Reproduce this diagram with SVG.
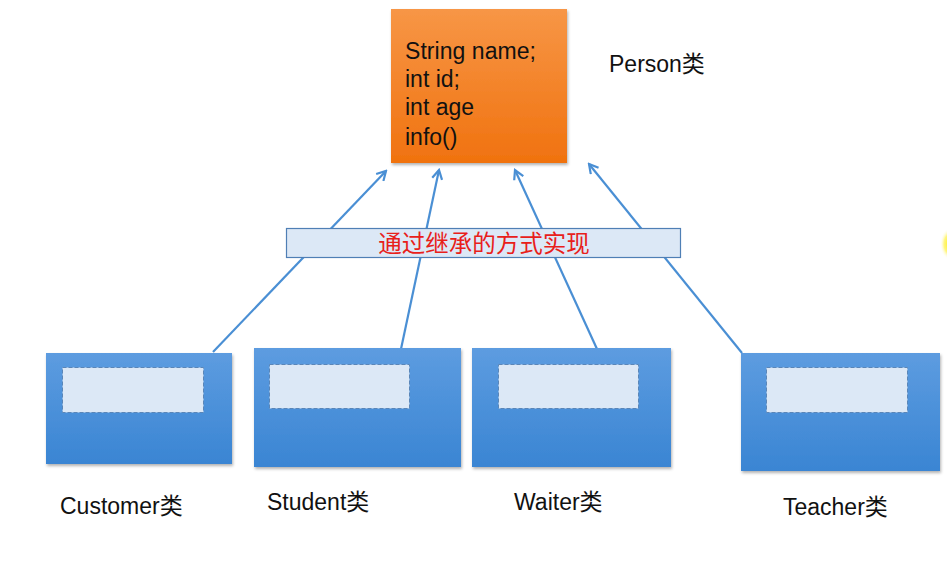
<svg xmlns="http://www.w3.org/2000/svg" width="947" height="561" viewBox="0 0 947 561">
  <defs>
    <linearGradient id="orange" x1="0" y1="0" x2="0" y2="1">
      <stop offset="0" stop-color="#f79646"/>
      <stop offset="1" stop-color="#f0720f"/>
    </linearGradient>
    <linearGradient id="blue" x1="0" y1="0" x2="0" y2="1">
      <stop offset="0" stop-color="#5d9ce0"/>
      <stop offset="1" stop-color="#3a85d3"/>
    </linearGradient>
    <radialGradient id="yel">
      <stop offset="0" stop-color="#ffee00"/>
      <stop offset="0.6" stop-color="#fff24d" stop-opacity="0.7"/>
      <stop offset="1" stop-color="#ffffff" stop-opacity="0"/>
    </radialGradient>
    <filter id="shadow" x="-10%" y="-10%" width="125%" height="125%">
      <feDropShadow dx="1" dy="2" stdDeviation="1.5" flood-color="#000" flood-opacity="0.3"/>
    </filter>
    <marker id="arrow" viewBox="0 0 12 12" refX="10" refY="6" markerWidth="12" markerHeight="12" markerUnits="userSpaceOnUse" orient="auto">
      <path d="M1,1 L10,6 L1,11" fill="none" stroke="#4a8fd4" stroke-width="2.2"/>
    </marker>
  </defs>
  <style>
    .lbl { font-family: "Liberation Sans", "Noto Sans CJK SC", sans-serif; font-size: 23px; fill: #111; }
    .cls { fill: url(#blue); filter: url(#shadow); }
    .inner { fill: #dce8f6; stroke: #5a86b8; stroke-width: 1; stroke-dasharray: 4 2; }
    .conn { stroke: #4a8fd4; stroke-width: 2.2; fill: none; marker-end: url(#arrow); }
  </style>
  <rect width="947" height="561" fill="#ffffff"/>
  <ellipse cx="950" cy="244" rx="10" ry="16" fill="url(#yel)"/>

  <g id="connectors">
    <line class="conn" x1="213" y1="352" x2="386" y2="171"/>
    <line class="conn" x1="401" y1="349" x2="439" y2="170"/>
    <line class="conn" x1="597" y1="349" x2="515" y2="170"/>
    <line class="conn" x1="742" y1="353" x2="589" y2="164"/>
  </g>

  <g id="person">
    <rect x="391" y="9" width="176" height="154" fill="url(#orange)" filter="url(#shadow)"/>
    <text class="lbl" x="405" y="59" textLength="131">String name;</text>
    <text class="lbl" x="405" y="87">int id;</text>
    <text class="lbl" x="405" y="115">int age</text>
    <text class="lbl" x="405" y="145">info()</text>
    <text class="lbl" x="609" y="72">Person类</text>
  </g>

  <g id="banner">
    <rect x="286.5" y="228.5" width="394" height="29" fill="#dce8f6" stroke="#4f7fb5" stroke-width="1.2"/>
    <text x="484" y="252" text-anchor="middle" font-family="'Noto Sans CJK SC', sans-serif" font-size="23.5" fill="#e8201a">通过继承的方式实现</text>
  </g>

  <g id="customer">
    <rect class="cls" x="46" y="353" width="186" height="111"/>
    <rect class="inner" x="62.5" y="367.5" width="141" height="45"/>
    <text class="lbl" x="60" y="514">Customer类</text>
  </g>

  <g id="student">
    <rect class="cls" x="254" y="348" width="207" height="119"/>
    <rect class="inner" x="269.5" y="364.5" width="140" height="44"/>
    <text class="lbl" x="267" y="510">Student类</text>
  </g>

  <g id="waiter">
    <rect class="cls" x="472" y="348" width="199" height="119"/>
    <rect class="inner" x="498.5" y="364.5" width="140" height="44"/>
    <text class="lbl" x="514" y="510">Waiter类</text>
  </g>

  <g id="teacher">
    <rect class="cls" x="741" y="353" width="199" height="118"/>
    <rect class="inner" x="766.5" y="367.5" width="141" height="45"/>
    <text class="lbl" x="783" y="515">Teacher类</text>
  </g>
</svg>
